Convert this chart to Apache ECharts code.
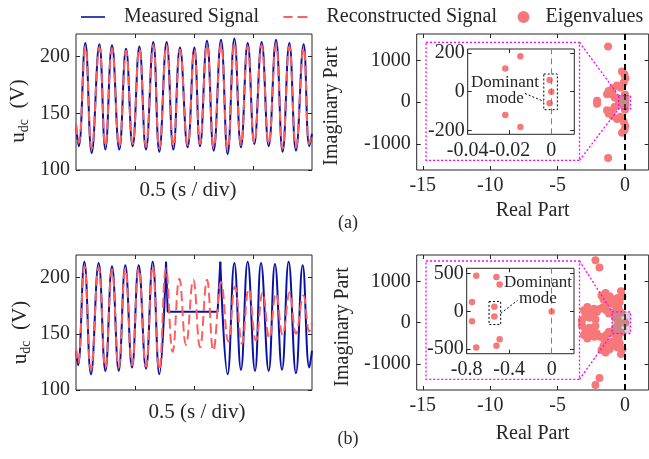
<!DOCTYPE html>
<html><head><meta charset="utf-8">
<script src="https://cdn.jsdelivr.net/npm/echarts@6/dist/echarts.min.js"></script>
<style>html,body{margin:0;padding:0;background:#fff}#c{width:649px;height:459px}</style>
</head><body><div id="c"></div>
<script>
// ---------- DATA ----------
// (a) time-domain signal (extrema)
const timeA  = [0,0.023,0.079,0.133,0.198,0.249,0.305,0.367,0.424,0.480,0.537,0.593,0.655,0.706,0.768,0.825,0.881,0.946,1.003,1.051,1.110,1.167,1.229,1.285,1.342,1.398,1.455,1.511,1.573,1.633,1.695,1.751,1.808,1.864,1.929,1.977,2.0];
const measA  = [140,121,212,115,211,118,210,118,207,121,209,118,213,116,213,118,208,120,208,121,214,117,215,114,216,120,212,123,213,121,215,116,212,117,211,121,132];
const reconA = [140,124,209,119,208,121,207,121,205,123,207,121,210,119,210,121,206,122,206,123,210,120,211,118,212,122,209,124,210,123,211,119,209,120,208,123,133];
// (b) time-domain signal
const timeB1 = [0,0.017,0.071,0.127,0.192,0.249,0.305,0.362,0.418,0.475,0.531,0.593,0.650,0.706,0.763];
const measB1 = [135,122,214,114,213,117,210,117,211,120,211,119,214,114,214];
const timeB2 = [0.763,0.777,1.200,1.223];
const measB2 = [214,169.5,169.5,214];
const timeB3 = [1.223,1.285,1.342,1.398,1.455,1.517,1.568,1.633,1.686,1.746,1.802,1.864,1.921,1.977,2.0];
const measB3 = [214,114,213,118,214,117,213,117,212,118,214,115,211,120,135];
const timeRB = [0,0.017,0.071,0.127,0.192,0.249,0.305,0.362,0.418,0.475,0.531,0.593,0.650,0.706,0.763,0.819,0.876,0.932,0.994,1.051,1.110,1.164,1.229,1.291,1.347,1.407,1.463,1.525,1.582,1.638,1.695,1.751,1.811,1.864,1.927,1.977,2.0];
const reconB = [137,124,210,118,209,120,207,120,208,122,208,121,210,118,208,134,199,140,198,138,198,135,196,143,192,141,190,144,187,146,186,149,187,150,184,152,160];
// (a) eigenvalues
const eigARe = [-1.26,-0.23,-0.05,0.02,-0.10,-0.60,-0.35,-0.92,-1.22,-1.34,-0.97,-0.77,-0.47,-2.08,
                -1.26,-0.23,-0.05,0.02,-0.10,-0.60,-0.35,-0.92,-1.22,-1.34,-0.97,-0.77,-0.47,-2.08,
                -0.0148,-0.022,-0.0008,0,-0.0008,-0.022,-0.0148];
const eigAIm = [1335,735,670,575,470,400,350,335,270,190,190,110,55,35,
                -1335,-735,-670,-575,-470,-400,-350,-335,-270,-190,-190,-110,-55,-35,
                182,120,60,0,-60,-120,-182];
const insetARe = [-0.0148,-0.022,-0.0008,0,-0.0008,-0.022,-0.0148];
const insetAIm = [182,120,60,0,-60,-120,-182];
// (b) eigenvalues
const eigBRe = [-2.2,-1.9,-1.75,-1.45,-1.15,-0.85,-0.55,-0.3,-0.2,-0.4,-1.3,-1.6,-1.0,-0.7,
                -3.05,-2.8,-2.55,-2.3,-2.95,-2.65,-2.4,-2.1,-3.2,-2.2,-1.85,-1.6,-1.4,-1.2,-0.9,-0.6,-0.3,
                -2.2,-1.9,-1.75,-1.45,-1.15,-0.85,-0.55,-0.3,-0.2,-0.4,-1.3,-1.6,-1.0,-0.7,
                -3.05,-2.8,-2.55,-2.3,-2.95,-2.65,-2.4,-2.1,-3.2,-2.2,-1.85,-1.6,-1.4,-1.2,-0.9,-0.6,-0.3,
                -0.71,-0.52,-0.49,-0.75,-0.54,-0.54,-0.75,-0.49,-0.52,-0.71,0];
const eigBIm = [1510,1340,660,720,640,560,600,760,640,500,500,560,460,420,
                300,380,290,340,170,120,200,260,60,80,340,380,300,220,250,150,240,
                -1510,-1340,-660,-720,-640,-560,-600,-760,-640,-500,-500,-560,-460,-420,
                -300,-380,-290,-340,-170,-120,-200,-260,-60,-80,-340,-380,-300,-220,-250,-150,-240,
                472,454,356,125,60,-69,-130,-370,-454,-477,0];
const insetBRe = [-0.71,-0.52,-0.49,-0.75,-0.54,-0.54,-0.75,-0.49,-0.52,-0.71,0];
const insetBIm = [472,454,356,125,60,-69,-130,-370,-454,-477,0];
// tick labels
const sigYTicks = [100,150,200];
const sigXTicks = [0.5,1,1.5];
const eigXTicks = [-15,-10,-5,0];
const eigYTicks = [-1000,0,1000];
const insAXTicks = [-0.04,-0.02,0];
const insAYTicks = [-200,0,200];
const insBXTicks = [-0.8,-0.4,0];
const insBYTicks = [-500,0,500];
// annotation regions (data units)
const domBoxA = [[-0.0036,91],[0.0029,-93]];
const domBoxB = [[-0.59,130],[-0.48,-174]];
const zoomBoxA = [[-0.48,160],[0.4,-160]];
const zoomBoxB = [[-0.96,262],[0.4,-262]];

// ---------- STYLE ----------
const FONT = '"Liberation Serif", "Times New Roman", serif';
const AX = '#262626';
const BLUE = '#0a12a6';
const RED = '#ff5e5e';
const PT = '#f77878';
const zip = (a,b) => a.map((v,i)=>[v,b[i]]);
const fmt = v => String(v);

function ax(gridIndex, position, min, max, ticks, showLabels, extra) {
  return Object.assign({
    type:'value', gridIndex, position, min, max,
    axisLine:{show:false, onZero:false},
    splitLine:{show:false},
    axisTick:{show:true, inside:true, length:4, lineStyle:{color:AX,width:1}, customValues:ticks},
    axisLabel:{show:showLabels, customValues:ticks, formatter:fmt, color:AX, fontSize:20, fontFamily:FONT, margin:6, showMinLabel:true, showMaxLabel:true}
  }, extra||{});
}
const nameStyle = (extra)=>Object.assign({fontSize:20, fontFamily:FONT, color:AX}, extra||{});
const udcName = '{u|u}{s|dc}{t|  (V)}';
const udcRich = {u:{fontSize:21,fontFamily:FONT,color:AX,lineHeight:26,verticalAlign:'middle'},
                 s:{fontSize:14,fontFamily:FONT,color:AX,lineHeight:14,verticalAlign:'bottom'},
                 t:{fontSize:21,fontFamily:FONT,color:AX,lineHeight:26,verticalAlign:'middle'}};

const grids = [
  {left:76, top:34, width:236, height:136},
  {left:416.7, top:34, width:232, height:136},
  {left:76, top:255, width:236, height:135},
  {left:416.7, top:255, width:232, height:135},
  {left:467.7, top:49, width:106.6, height:85.3, backgroundColor:'#fff'},
  {left:466.7, top:268.3, width:107.3, height:85.4, backgroundColor:'#fff'}
].map(g=>Object.assign({show:true, borderColor:AX, borderWidth:1, containLabel:false, outerBoundsMode:'none'}, g));

const insLabel = (ticks)=>({axisLabel:{customValues:ticks, formatter:fmt, color:AX, fontSize:20, fontFamily:FONT, margin:3}});
const xAxes = [
  ax(0,'bottom',0,2,sigXTicks,false,{name:'0.5 (s / div)',nameLocation:'middle',nameGap:9,nameTextStyle:nameStyle({fontSize:21,lineHeight:22,padding:[0,12,0,0]})}),
  ax(0,'top',0,2,sigXTicks,false),
  ax(1,'bottom',-15.45,1.75,eigXTicks,true,{name:'Real Part',nameLocation:'middle',nameGap:31,nameTextStyle:nameStyle({lineHeight:20})}),
  ax(1,'top',-15.45,1.75,eigXTicks,false),
  ax(2,'bottom',0,2,sigXTicks,false,{name:'0.5 (s / div)',nameLocation:'middle',nameGap:11,nameTextStyle:nameStyle({fontSize:21,lineHeight:22,padding:[0,0,0,6]})}),
  ax(2,'top',0,2,sigXTicks,false),
  ax(3,'bottom',-15.45,1.75,eigXTicks,true,{name:'Real Part',nameLocation:'middle',nameGap:34,nameTextStyle:nameStyle({lineHeight:20})}),
  ax(3,'top',-15.45,1.75,eigXTicks,false),
  ax(4,'bottom',-0.04,0.011,insAXTicks,true),
  ax(4,'top',-0.04,0.011,insAXTicks,false),
  ax(5,'bottom',-0.8,0.21,insBXTicks,true),
  ax(5,'top',-0.8,0.21,insBXTicks,false)
];
const yAxes = [
  ax(0,'left',100,220,sigYTicks,true,{name:udcName,nameLocation:'middle',nameGap:45,nameRotate:90,nameTextStyle:{fontFamily:FONT,rich:udcRich,padding:[0,18,0,0]}}),
  ax(0,'right',100,220,sigYTicks,false),
  ax(1,'left',-1625,1635,eigYTicks,true,{name:'Imaginary Part',nameLocation:'middle',nameGap:75,nameRotate:90,nameTextStyle:nameStyle({lineHeight:20,padding:[0,8,0,0]})}),
  ax(1,'right',-1625,1635,eigYTicks,false),
  ax(2,'left',100,220,sigYTicks,true,{name:udcName,nameLocation:'middle',nameGap:43,nameRotate:90,nameTextStyle:{fontFamily:FONT,rich:udcRich,padding:[0,20,0,0]}}),
  ax(2,'right',100,220,sigYTicks,false),
  ax(3,'left',-1630,1640,eigYTicks,true,{name:'Imaginary Part',nameLocation:'middle',nameGap:64,nameRotate:90,nameTextStyle:nameStyle({lineHeight:20,padding:[0,9,0,0]})}),
  ax(3,'right',-1630,1640,eigYTicks,false),
  ax(4,'left',-220,220,insAYTicks,true,insLabel(insAYTicks)),
  ax(4,'right',-220,220,insAYTicks,false),
  ax(5,'left',-560,570,insBYTicks,true,insLabel(insBYTicks)),
  ax(5,'right',-560,570,insBYTicks,false)
];

const blueLine = (xi, data, smooth) => ({type:'line', name:'Measured Signal', xAxisIndex:xi, yAxisIndex:xi, data,
  smooth: smooth, showSymbol:false, symbol:'none', lineStyle:{color:BLUE,width:2}, itemStyle:{color:BLUE}, z:2});
const redLine = (xi, data) => ({type:'line', name:'Reconstructed Signal', xAxisIndex:xi, yAxisIndex:xi, data,
  smooth:0.45, showSymbol:false, symbol:'none', lineStyle:{color:RED,width:2,type:[10,5]}, itemStyle:{color:RED}, z:3});
const zeroLine = (color,width,dash) => ({silent:true, symbol:['none','none'], label:{show:false},
  lineStyle:{color,width,type:dash}, data:[{xAxis:0}]});
const eig = (xi, re, im, size, extra) => Object.assign({type:'scatter', name:'Eigenvalues', xAxisIndex:xi, yAxisIndex:xi,
  data:zip(re,im), symbol:'circle', symbolSize:size, itemStyle:{color:PT, opacity:1}, z:4}, extra||{});
const domArea = (box) => ({silent:true, itemStyle:{color:'rgba(0,0,0,0)', borderColor:'#000', borderWidth:1, borderType:[2,2]},
  data:[[{coord:box[0]},{coord:box[1]}]]});

const series = [
  blueLine(0, zip(timeA, measA), 0.45),
  redLine(0, zip(timeA, reconA)),
  eig(2, eigARe, eigAIm, 8, {markLine:zeroLine('#000',2,[6,4])}),
  blueLine(4, zip(timeB1, measB1), 0.45),
  blueLine(4, zip(timeB2, measB2), false),
  blueLine(4, zip(timeB3, measB3), 0.45),
  redLine(4, zip(timeRB, reconB)),
  eig(6, eigBRe, eigBIm, 8, {markLine:zeroLine('#000',2,[6,4])}),
  eig(8, insetARe, insetAIm, 6.5, {markLine:zeroLine('#808080',1,[6,4]), markArea:domArea(domBoxA)}),
  eig(10, insetBRe, insetBIm, 6.5, {markLine:zeroLine('#808080',1,[6,4]), markArea:domArea(domBoxB)})
];

const legTS = (p)=>({fontSize:20, fontFamily:FONT, color:AX, padding:[0,0,0,p]});
const option = {
  animation:false,
  backgroundColor:'#fff',
  textStyle:{fontFamily:FONT},
  grid:grids, xAxis:xAxes, yAxis:yAxes, series,
  legend:[
    {data:[{name:'Measured Signal', icon:'path://M0,0h24v1.6h-24z'}], left:81, top:7, padding:0, itemWidth:24, itemHeight:14, selectedMode:false, textStyle:legTS(14)},
    {data:[{name:'Reconstructed Signal', icon:'path://M0,0h9v2h-9z M14,0h10v2h-10z'}], left:283.5, top:7, padding:0, itemWidth:24, itemHeight:14, selectedMode:false, textStyle:legTS(14)},
    {data:[{name:'Eigenvalues', icon:'circle'}], left:517.5, top:7, padding:0, itemWidth:12, itemHeight:12, selectedMode:false, textStyle:legTS(11)}
  ]
};
const chart = echarts.init(document.getElementById('c'), null, {renderer:'canvas'});
chart.setOption(option);

// ---------- annotations ----------
const MAG = '#ff00ff';
function px(xi, p){ return chart.convertToPixel({xAxisIndex:xi, yAxisIndex:xi}, p); }
function zoomGroup(xi, box, big){
  const a = px(xi, box[0]), b = px(xi, box[1]);
  const x0=Math.min(a[0],b[0]), x1=Math.max(a[0],b[0]), y0=Math.min(a[1],b[1]), y1=Math.max(a[1],b[1]);
  const dashed = {stroke:MAG, lineWidth:1.3, lineDash:[2,2], fill:null};
  return [
    {type:'rect', z:100, shape:{x:big[0], y:big[1], width:big[2]-big[0], height:big[3]-big[1]}, style:Object.assign({}, dashed, {fill:'rgba(0,0,0,0)'})},
    {type:'rect', z:100, shape:{x:x0, y:y0, width:x1-x0, height:y1-y0}, style:Object.assign({}, dashed, {fill:'rgba(150,150,150,0.4)'})},
    {type:'line', z:100, shape:{x1:big[2], y1:big[1], x2:x0, y2:y0}, style:dashed},
    {type:'line', z:100, shape:{x1:big[2], y1:big[3], x2:x0, y2:y1}, style:dashed}
  ];
}
const txt = (x,y,t,size) => ({type:'text', z:100, x, y, style:{text:t, font:size+'px '+FONT, fill:AX, align:'center', verticalAlign:'middle', lineHeight:16}});
const dotLine = (x1,y1,x2,y2) => ({type:'line', z:100, shape:{x1,y1,x2,y2}, style:{stroke:'#000', lineWidth:1, lineDash:[2,2]}});
chart.setOption({graphic:[].concat(
  zoomGroup(2, zoomBoxA, [426,42.3,579.5,160.3]),
  zoomGroup(6, zoomBoxB, [426,261,579.5,379.3]),
  [
    txt(505,90.5,'Dominant\nmode',17),
    dotLine(525,93.5,544,101.5),
    txt(538,290.5,'Dominant\nmode',17),
    dotLine(500.7,313.3,517.5,300.5),
    txt(348,223,'(a)',18),
    txt(348,439,'(b)',18)
  ]
)});
</script>
</body></html>
